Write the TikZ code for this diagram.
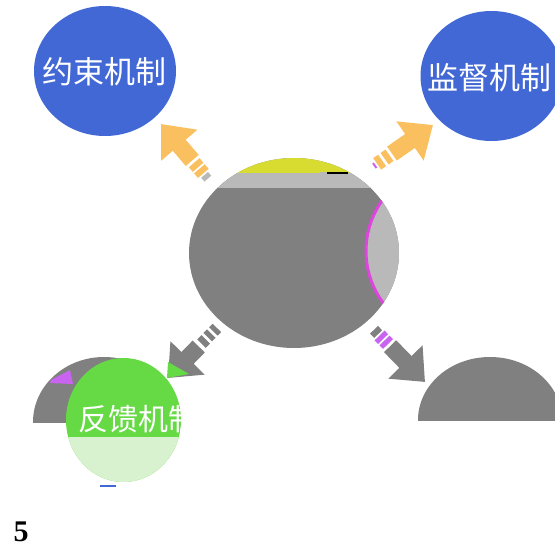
\documentclass[tikz,border=0pt]{standalone}
\usepackage{fontspec}
\newfontfamily\cjk{Noto Sans CJK SC}
\newfontfamily\tnr{Liberation Serif}
\usetikzlibrary{shapes.geometric,arrows.meta,calc}
\definecolor{bluec}{RGB}{66,104,214}
\definecolor{orangec}{RGB}{250,192,96}
\definecolor{grayc}{RGB}{128,128,128}
\definecolor{lgrayc}{RGB}{185,185,185}
\definecolor{yellowc}{RGB}{216,220,48}
\definecolor{magc}{RGB}{222,68,222}
\definecolor{purpc}{RGB}{200,100,240}
\definecolor{greenc}{RGB}{102,218,68}
\definecolor{lgreenc}{RGB}{216,242,208}
\begin{document}
\begin{tikzpicture}[x=1pt,y=-1pt,
  bluedisc/.style={ellipse, fill=bluec, inner sep=0pt, outer sep=0pt, minimum width=142pt, minimum height=130pt},
  graydisc/.style={ellipse, fill=grayc, inner sep=0pt, outer sep=0pt, minimum width=144pt, minimum height=126pt},
  cjklabel/.style={text=white, font=\cjk\fontsize{31}{31}\selectfont, inner sep=0pt},
  shaft/.style={line width=17pt, -{Triangle[length=28pt,width=46pt]}},
  stripe/.style={line width=14pt},
]
\useasboundingbox (0,0) rectangle (555,549);

% outer discs
\node[bluedisc] (tl) at (105,71) {};
\node[cjklabel] (tltext) at (104,72) {约束机制};
\node[bluedisc] (tr) at (491.5,76) {};
\node[cjklabel] (trtext) at (489.5,77.5) {监督机制};

\begin{scope}
  \clip (0,0) rectangle (555,420);
  \node[graydisc] (br) at (490,420) {};
\end{scope}
\begin{scope}
  \clip (0,0) rectangle (555,422);
  \node[graydisc, minimum width=142pt, minimum height=130pt] (bl) at (104,422) {};
\end{scope}
\fill[purpc] (51,380) -- (70,370) -- (73,384) -- (50,383) -- cycle;

% feedback disc
\node[ellipse, fill=greenc, inner sep=0pt, outer sep=0pt, minimum width=115pt, minimum height=124pt] (fb) at (123.5,420) {};
\begin{scope}
  \clip (fb.center) ellipse [x radius=57.5pt, y radius=62pt];
  \fill[lgreenc] (60,437) rectangle (190,490);
  \node[cjklabel, font=\cjk\fontsize{30}{30}\selectfont, anchor=west] (fbtext) at (78,419) {反馈机制};
\end{scope}
\draw[bluec, line width=2pt] (100,486) -- (116,486);

% central disc
\node[ellipse, fill=grayc, inner sep=0pt, outer sep=0pt, minimum width=210pt, minimum height=190pt] (c) at (294,253) {};
\begin{scope}
  \clip (c.center) ellipse [x radius=105pt, y radius=95pt];
  \fill[yellowc] (180,150) rectangle (420,173);
  \fill[lgrayc] (180,173) rectangle (420,188);
  \fill[lgrayc] (453,251) circle [radius=87pt];
  \draw[magc, line width=3pt] (453,251) circle [radius=87pt];
\end{scope}
\draw[lgrayc, line width=1.5pt] (320,173) -- (327,173);
\draw[black, line width=1.5pt] (327,173) -- (348,173);

% arrow anchors
\coordinate (t1) at (161,124); \coordinate (d1) at (233,208);
\coordinate (t2) at (433,125); \coordinate (d2) at (341,189);
\coordinate (t3) at (168,378); \coordinate (d3) at (246,298);
\coordinate (t4) at (425,382); \coordinate (d4) at (345,300);

% top-left arrow
\draw[shaft, orangec] ($(t1)!48pt!(d1)$) -- (t1);
\draw[stripe, orangec] ($(t1)!51pt!(d1)$) -- ($(t1)!57pt!(d1)$);
\draw[stripe, orangec] ($(t1)!59pt!(d1)$) -- ($(t1)!65pt!(d1)$);
\draw[line width=9pt, lgrayc] ($(t1)!67pt!(d1)$) -- ($(t1)!72pt!(d1)$);

% top-right arrow
\draw[shaft, orangec] ($(t2)!50pt!(d2)$) -- (t2);
\draw[stripe, orangec] ($(t2)!53pt!(d2)$) -- ($(t2)!59pt!(d2)$);
\draw[stripe, orangec] ($(t2)!62pt!(d2)$) -- ($(t2)!68pt!(d2)$);
\draw[line width=6pt, purpc] ($(t2)!70pt!(d2)$) -- ($(t2)!72pt!(d2)$);

% bottom-left arrow
\draw[shaft, grayc] ($(t3)!44pt!(d3)$) -- (t3);
\draw[line width=12pt, grayc] ($(t3)!48pt!(d3)$) -- ($(t3)!54pt!(d3)$);
\draw[line width=12pt, grayc] ($(t3)!57pt!(d3)$) -- ($(t3)!62pt!(d3)$);
\draw[line width=12pt, grayc] ($(t3)!65pt!(d3)$) -- ($(t3)!70pt!(d3)$);
\fill[greenc] (168,362) -- (167,378) -- (189,374) -- cycle;

% bottom-right arrow
\draw[shaft, grayc] ($(t4)!50pt!(d4)$) -- (t4);
\draw[stripe, purpc] ($(t4)!53pt!(d4)$) -- ($(t4)!58pt!(d4)$);
\draw[stripe, purpc] ($(t4)!60pt!(d4)$) -- ($(t4)!65pt!(d4)$);
\draw[line width=11pt, grayc] ($(t4)!67pt!(d4)$) -- ($(t4)!73pt!(d4)$);

% page number
\node[font=\tnr\bfseries\fontsize{30}{30}\selectfont, inner sep=0pt] (num) at (21,532) {5};
\end{tikzpicture}
\end{document}
